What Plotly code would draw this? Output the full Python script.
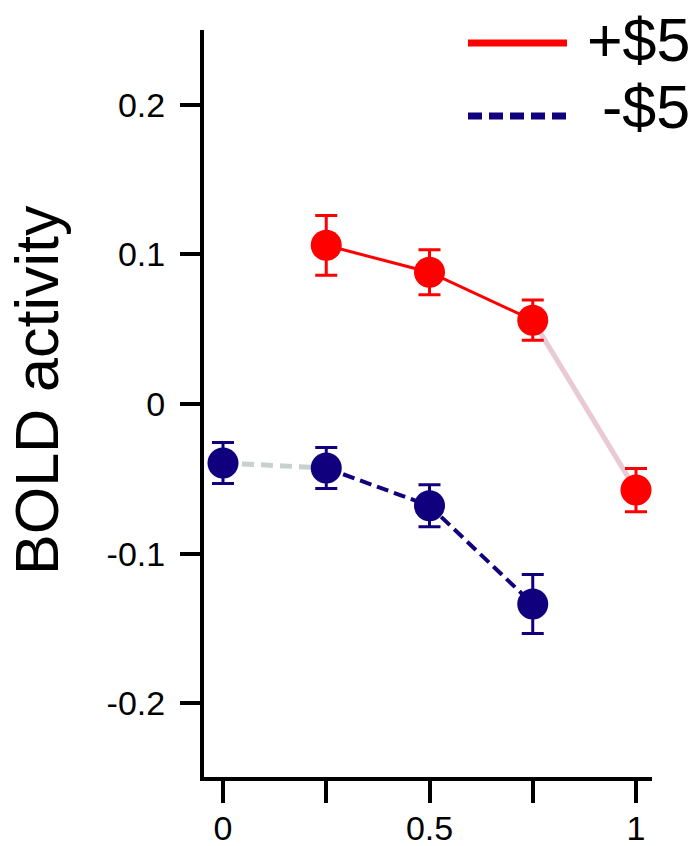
import plotly.graph_objects as go

# Reward condition values (x = probability level)
gain_x = [0.25, 0.5, 0.75, 1.0]
gain_y = [0.106, 0.088, 0.056, -0.0575]
gain_err = [0.020, 0.015, 0.0134, 0.0144]

loss_x = [0.0, 0.25, 0.5, 0.75]
loss_y = [-0.0394, -0.0428, -0.068, -0.1336]
loss_err = [0.0137, 0.0137, 0.014, 0.0197]

y_ticks = [0.2, 0.1, 0, -0.1, -0.2]
y_tick_text = ["0.2", "0.1", "0", "-0.1", "-0.2"]
x_ticks = [0, 0.25, 0.5, 0.75, 1]
x_tick_text = ["0", "", "0.5", "", "1"]

RED = "#ff0000"
NAVY = "#11007e"
PINK = "#e9c9d5"
GREY = "#c9d1d0"
FONT = "Liberation Sans, Arial, sans-serif"

W, H = 698, 846
L, R, T, B = 204, 652, 30, 777

fig = go.Figure()

# connecting segments (faded parts first)
fig.add_trace(go.Scatter(x=gain_x[2:], y=gain_y[2:], mode="lines",
                         line=dict(color=PINK, width=5), hoverinfo="skip"))
fig.add_trace(go.Scatter(x=gain_x[:3], y=gain_y[:3], mode="lines",
                         line=dict(color=RED, width=3), hoverinfo="skip"))
fig.add_trace(go.Scatter(x=loss_x[:2], y=loss_y[:2], mode="lines",
                         line=dict(color=GREY, width=5, dash="12px,7px"), hoverinfo="skip"))
fig.add_trace(go.Scatter(x=loss_x[1:], y=loss_y[1:], mode="lines",
                         line=dict(color=NAVY, width=4, dash="12px,6px"), hoverinfo="skip"))

# points with error bars
fig.add_trace(go.Scatter(x=gain_x, y=gain_y, mode="markers", name="+$5",
                         marker=dict(color=RED, size=31),
                         error_y=dict(type="data", array=gain_err, color=RED,
                                      thickness=3, width=11)))
fig.add_trace(go.Scatter(x=loss_x, y=loss_y, mode="markers", name="-$5",
                         marker=dict(color=NAVY, size=31),
                         error_y=dict(type="data", array=loss_err, color=NAVY,
                                      thickness=3, width=11)))


def px_x(p):
    return (p - L) / (R - L)


def px_y(p):
    return (B - p) / (B - T)


# legend drawn as shapes + text
fig.add_shape(type="line", xref="paper", yref="paper",
              x0=px_x(468), x1=px_x(567), y0=px_y(43), y1=px_y(43),
              line=dict(color=RED, width=7))
fig.add_shape(type="line", xref="paper", yref="paper",
              x0=px_x(468), x1=px_x(567), y0=px_y(116), y1=px_y(116),
              line=dict(color=NAVY, width=7, dash="14px,7px"))
fig.add_annotation(text="+$5", xref="paper", yref="paper",
                   x=px_x(692), y=px_y(40), xanchor="right", yanchor="middle",
                   showarrow=False, font=dict(family=FONT, size=61, color="black"))
fig.add_annotation(text="-$5", xref="paper", yref="paper",
                   x=px_x(692), y=px_y(107), xanchor="right", yanchor="middle",
                   showarrow=False, font=dict(family=FONT, size=61, color="black"))

# y-axis title
fig.add_annotation(text="BOLD activity", xref="paper", yref="paper",
                   x=px_x(37), y=px_y(390), xanchor="center", yanchor="middle",
                   textangle=-90, showarrow=False,
                   font=dict(family=FONT, size=61, color="black"))

fig.update_layout(
    width=W, height=H,
    margin=dict(l=L, r=W - R, t=T, b=H - B, pad=0),
    paper_bgcolor="white", plot_bgcolor="white",
    showlegend=False,
    font=dict(family=FONT, color="black"),
)
fig.update_xaxes(range=[(L - 223) / 413, (R - 223) / 413],
                 tickvals=x_ticks, ticktext=x_tick_text,
                 showgrid=False, zeroline=False, automargin=False,
                 showline=True, linecolor="black", linewidth=4,
                 ticks="outside", ticklen=22, tickwidth=4, tickcolor="black",
                 ticklabelstandoff=-4,
                 tickfont=dict(family=FONT, size=34, color="black"))
fig.update_yaxes(range=[(404 - B) / 1497, (404 - T) / 1497],
                 tickvals=y_ticks, ticktext=y_tick_text,
                 showgrid=False, zeroline=False, automargin=False,
                 showline=True, linecolor="black", linewidth=4,
                 ticks="outside", ticklen=20, tickwidth=4, tickcolor="black",
                 ticklabelstandoff=8,
                 tickfont=dict(family=FONT, size=34, color="black"))

fig.write_html("out.html")
